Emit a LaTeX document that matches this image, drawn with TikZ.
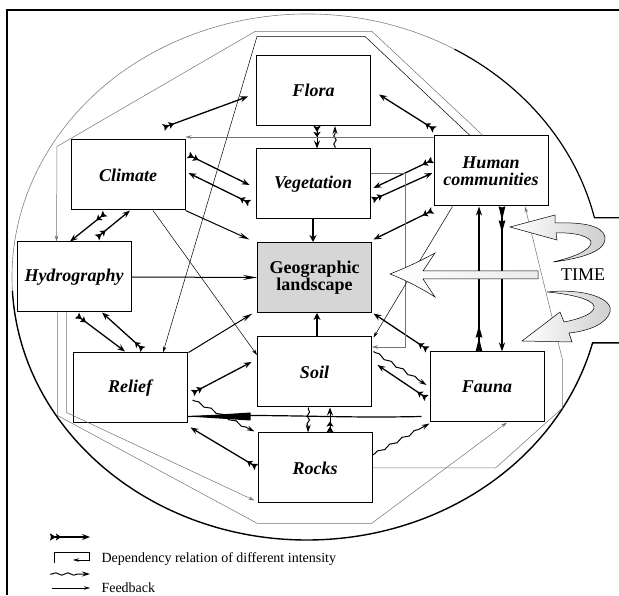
\documentclass[tikz,border=0pt]{standalone}
\usepackage{fontspec}
\setmainfont{Liberation Serif}
\usetikzlibrary{arrows.meta,decorations.pathmorphing}
\definecolor{LandFill}{RGB}{214,214,214}
\definecolor{DepGray}{RGB}{115,115,115}
\definecolor{TimeShade}{RGB}{205,205,205}

\begin{document}
\begin{tikzpicture}[x=1pt, y=1pt,
        comp/.style={draw, line width=1pt, fill=white, minimum width=114pt, minimum height=70pt,
                    inner sep=0pt, align=center, font=\fontsize{18}{17}\selectfont\bfseries\itshape},
    core/.style={comp, fill=LandFill, font=\fontsize{18}{17}\selectfont\bfseries},
        link/.style={{Stealth[reversed,length=6pt,width=7pt,inset=1pt]Stealth[reversed,length=5pt,width=7pt,inset=1pt]}-{Stealth[length=8pt,width=6pt,inset=3pt]}, line width=1.3pt},
        tall/.style={{Stealth[reversed,length=14pt,width=6.5pt,inset=1pt]Stealth[reversed,length=12pt,width=6.5pt,inset=1pt]}-{Stealth[length=9pt,width=6pt,inset=3pt]}, line width=1.3pt},
        infl/.style={-{Stealth[length=11pt,width=5pt,inset=4pt]}, line width=1pt},
        heavy/.style={-{Stealth[length=7pt,width=7pt]}, line width=2pt},
        wave/.style={-{Stealth[length=8pt,width=5pt,inset=3pt]}, line width=1pt, decorate,
                    decoration={snake, amplitude=1.2pt, segment length=14pt, pre length=2pt, post length=7pt}},
        ripple/.style={wave, decoration={snake, amplitude=1.2pt, segment length=8pt, pre length=2pt, post length=5pt}},
        dep/.style={-{Stealth[length=6pt,width=3.5pt]}, draw=DepGray, line width=0.5pt},
        fb/.style={-{Stealth[length=6pt,width=3.5pt]}, line width=0.5pt},
        timearrow/.style={draw, line width=0.5pt, left color=white, right color=TimeShade}
]
    \useasboundingbox (0,0) rectangle (619,595);
    \draw[line width=1.5pt] (7,0) -- (7,585) -- (619,585);
    \draw[line width=1.2pt] (619,377.16) -- (594.44,377.16) arc[start angle=13, end angle=60, x radius=295, y radius=263];
    \draw[line width=0.6pt, draw=gray] (307,318) ++(60:295 and 263) arc[start angle=60, end angle=183, x radius=295, y radius=263];
    \draw[line width=1.4pt] (307,318) ++(183:295 and 263) arc[start angle=183, end angle=345.5, x radius=295, y radius=263] -- (619,252.15);

    \node[comp] (flora) at (313.5,504.5) {Flora};
    \node[comp] (veg) at (313,411) {Vegetation};
    \node[core] (land) at (314.5,317.5) {Geographic\\landscape};
    \node[comp] (soil) at (314.5,223) {Soil};
    \node[comp] (rocks) at (315,127) {Rocks};
    \node[comp] (clim) at (128,420) {Climate};
    \node[comp] (hydro) at (74,318) {Hydrography};
    \node[comp] (relief) at (130,207) {Relief};
    \node[comp] (human) at (491,424) {Human\\communities};
    \node[comp] (fauna) at (487,208) {Fauna};
    \node[font=\fontsize{18}{18}\selectfont] (time) at (583,320) {TIME};

    \draw[link] ([shift={(-22,12)}]clim.north east) -- ([shift={(-8,-6)}]flora.west);
    \draw[link] ([shift={(1,6)}]human.north west) -- ([shift={(8,-4)}]flora.east);
    \draw[link, line width=1pt] ([xshift=3.5]flora.south) -- ([xshift=4]veg.north);
    \draw[ripple] ([xshift=22]veg.north) -- ([xshift=21.5]flora.south);
    \draw[link] ([shift={(3,20)}]clim.east) -- ([shift={(-6,-1)}]veg.west);
    \draw[link] ([shift={(-6,-19)}]veg.west) -- ([shift={(3,2)}]clim.east);
    \draw[infl] (clim.south east) -- ([shift={(-7.5,2.5)}]land.north west);
    \draw[heavy] (veg.south) -- (veg.south |- land.north);
    \draw[link] ([shift={(-1,11)}]human.west) -- ([shift={(3,-4)}]veg.east);
    \draw[link] ([shift={(2,-16)}]veg.east) -- ([shift={(-1,-2)}]human.west);
    \draw[link] ([shift={(-1,-4)}]human.south west) -- ([shift={(1.5,2.5)}]land.north east);
    \draw[link] ([shift={(-23,-3)}]clim.south) -- ([xshift=-4]hydro.north);
    \draw[link] ([shift={(23,4)}]hydro.north) -- ([xshift=2]clim.south);
    \draw[infl, -{Stealth[length=14pt,width=5pt,inset=5pt]}] (hydro.east) -- (land.west);
    \draw[link] ([shift={(3,-3)}]hydro.south) -- ([shift={(-5,1)}]relief.north);
    \draw[link] ([shift={(13,3)}]relief.north) -- ([xshift=28]hydro.south);
    \draw[infl] ([xshift=1]relief.north east) -- ([shift={(-4.5,-0.5)}]land.south west);
    \draw[link] ([shift={(5,-5)}]relief.east) -- ([shift={(-5.5,10)}]soil.west);
    \draw[wave] ([shift={(5,-12)}]relief.east) -- ([shift={(-3,1)}]rocks.north west);
    \draw[link] ([shift={(-1,1)}]rocks.west) -- ([shift={(3,-4)}]relief.south east);
    \fill ([yshift=7]relief.south east) -- ++(63,4) -- ++(0,-8) -- cycle;
    \draw[line width=1.2pt] ([yshift=7]relief.south east) .. controls +(90,3) and +(-90,-2) .. ([shift={(-8,6)}]fauna.south west);
    \draw[ripple] ([xshift=-6]soil.south) -- ([xshift=-7]rocks.north);
    \draw[link, line width=1pt] ([xshift=15]rocks.north) -- ([xshift=15.5]soil.south);
    \draw[heavy] ([xshift=2.5]soil.north) -- ([xshift=2.5]soil.north |- land.south);
    \draw[link] ([shift={(-2,2)}]fauna.north west) -- ([shift={(1.5,-0.5)}]land.south east);
    \draw[wave] ([shift={(1.5,-15)}]soil.north east) -- ([shift={(-3,2)}]fauna.west);
    \draw[link] ([shift={(-3,-11)}]fauna.west) -- ([shift={(5.5,7)}]soil.east);
    \draw[wave] ([yshift=13]rocks.east) -- ([yshift=-1]fauna.south west);
    \draw[tall] ([xshift=-8]fauna.north) -- ([xshift=-12]human.south);
    \draw[tall] ([xshift=11]human.south) -- ([xshift=15]fauna.north);

    \draw[dep] (rocks.east) -- ++(123,0) -- ++(67,60) -- ++(0,48) -- ([xshift=34]human.south);
    \draw[dep] ([xshift=41]hydro.south west) -- ++(0,-103) -- ++(200,-108) -- ++(114,0) -- ([xshift=20]fauna.south);
    \draw[dep] ([xshift=50]hydro.south west) -- ++(0,-100) -- ([shift={(-3,3)}]rocks.south west);
    \draw[dep] ([xshift=-8]human.north) -- ++(-111,104) -- ++(-117,0) -- ++(-198,-115) -- ([xshift=40]hydro.north west);
    \draw[fb] ([xshift=-21]human.north) -- ++(-105,99) -- ++(-108,0) -- ([xshift=33]relief.north);
    \draw[dep] ([yshift=-1.5]human.north west) -- ([yshift=-1.5]human.north west -| clim.east);
    \draw[dep] ([yshift=11]veg.east) -- ++(35,0) |- ([yshift=25]soil.east);
    \draw[fb] ([xshift=19]human.south west) -- ([shift={(1.5,-1)}]soil.north east);
    \draw[fb] ([xshift=25]clim.south) -- ([yshift=17]soil.west);

    \draw[timearrow, right color=black!8] (390,321) .. controls (408,328) and (424,336) .. (435,342) -- (423,324) -- (538,324) -- (538,316) -- (423,316) -- (435,298) .. controls (424,305) and (408,314) .. (390,321) -- cycle;
    \draw[timearrow] (510,368) -- (555,380) -- (555,372) .. controls (580,373) and (603,370) .. (605,358) .. controls (607,345) and (585,337) .. (553,333) .. controls (575,338) and (590,345) .. (591,352) .. controls (592,358) and (575,363) .. (556,362) -- (557,355) -- cycle;
    \draw[timearrow] (547,303) .. controls (585,307) and (614,296) .. (610,283) .. controls (607,272) and (590,264) .. (569,262) -- (572,253) -- (522,254) -- (560,283) -- (564,273) .. controls (580,276) and (596,282) .. (594,289) .. controls (592,296) and (570,301) .. (547,303) -- cycle;

    \coordinate (k1) at (50,58);
    \draw[link, line width=1.2pt] (k1) -- ++(40,0);
    \coordinate (k2) at (54,32);
    \draw[dep, draw=black] (k2) -- ++(0,11) -- ++(35,0) -- ++(0,-8) -- ++(-16,0);
    \node[anchor=base west, font=\fontsize{14}{14}\selectfont] (lgdep) at (98,33) {Dependency relation of different intensity};
    \coordinate (k3) at (50,21);
    \draw[wave, decoration={segment length=12pt}] (k3) -- ++(40,0);
    \coordinate (k4) at (52,7);
    \draw[fb] (k4) -- ++(38,0);
    \node[anchor=base west, font=\fontsize{14}{14}\selectfont] (lgfb) at (98,2) {Feedback};
\end{tikzpicture}
\end{document}
